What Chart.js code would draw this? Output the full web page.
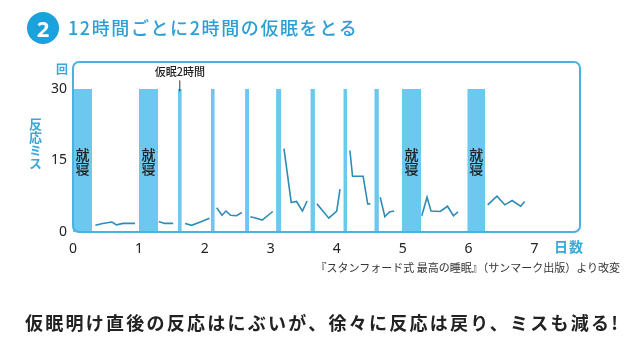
<!DOCTYPE html>
<html lang="ja">
<head>
<meta charset="utf-8">
<title>12時間ごとに2時間の仮眠をとる</title>
<script src="https://cdn.jsdelivr.net/npm/chart.js@4"></script>
<style>
  body { margin: 0; background: #fff; font-family: "Noto Sans CJK JP", "Noto Sans", sans-serif; }
  #wrap { position: relative; width: 640px; height: 352px; overflow: hidden; }
  #chart { position: absolute; left: 0; top: 0; }
  .txt { position: absolute; white-space: nowrap; line-height: 1; }
  #num { left: 27px; top: 12px; width: 32px; height: 32px; border-radius: 50%; background: #1ba1dc;
         color: #fff; font: 700 22px "Noto Sans", sans-serif; text-align: center; line-height: 32px; }
  #title { left: 68px; top: 18px; font-size: 18px; font-weight: 500; color: #2e9fd4; letter-spacing: 1.6px; }
  #unit { left: 56px; top: 63px; font-size: 12px; font-weight: 700; color: #3aa8da; }
  #ylab { left: 29px; top: 118px; font-size: 13px; font-weight: 700; color: #3aa8da; writing-mode: vertical-rl; }
  #xlab { left: 554px; top: 239px; font-size: 14px; font-weight: 700; color: #3aa8da; letter-spacing: 1px; }
  #src { right: 20px; top: 262px; font-size: 11px; color: #333; }
  #cap { left: 25px; top: 313px; font-size: 18px; font-weight: 700; color: #222; letter-spacing: 2.25px; }
</style>
</head>
<body>
<div id="wrap">
  <canvas id="chart" width="640" height="352"></canvas>
  <div class="txt" id="num">2</div>
  <div class="txt" id="title">12時間ごとに2時間の仮眠をとる</div>
  <div class="txt" id="unit">回</div>
  <div class="txt" id="ylab">反応ミス</div>
  <div class="txt" id="xlab">日数</div>
  <div class="txt" id="src">『スタンフォード式 最高の睡眠』（サンマーク出版）より改変</div>
  <div class="txt" id="cap">仮眠明け直後の反応はにぶいが、徐々に反応は戻り、ミスも減る!</div>
</div>
<script>
// days since start; bars reach 30 on the miss scale
const sleepStart = [0, 1.0, 4.99, 5.98];
const sleepEnd   = [0.29, 1.29, 5.28, 6.25];
const napStart   = [1.59, 2.09, 2.61, 3.08, 3.60, 4.10, 4.57];
const napEnd     = [1.65, 2.15, 2.67, 3.16, 3.67, 4.16, 4.64];
const barTop = 30;

// reaction misses, null separates awake periods
const missDays = [
  0.34, 0.45, 0.59, 0.66, 0.76, 0.94, null,
  1.30, 1.39, 1.52, null,
  1.70, 1.80, 1.95, 2.07, null,
  2.18, 2.26, 2.32, 2.39, 2.48, 2.56, null,
  2.69, 2.78, 2.87, 3.03, null,
  3.20, 3.31, 3.39, 3.48, 3.55, null,
  3.70, 3.88, 4.00, 4.05, null,
  4.20, 4.24, 4.40, 4.47, 4.51, null,
  4.66, 4.73, 4.80, 4.87, null,
  5.29, 5.37, 5.43, 5.57, 5.68, 5.77, 5.84, null,
  6.29, 6.43, 6.55, 6.66, 6.79, 6.85
];
const missValues = [
  1.4, 1.8, 2.1, 1.5, 1.8, 1.8, null,
  2.2, 1.8, 1.8, null,
  1.8, 1.4, 2.2, 2.9, null,
  5.1, 3.5, 4.4, 3.5, 3.4, 4.1, null,
  3.2, 2.9, 2.5, 4.3, null,
  17.5, 6.2, 6.4, 4.4, 6.5, null,
  5.9, 2.9, 4.4, 9.0, null,
  17.1, 11.7, 11.7, 5.9, 5.9, null,
  7.3, 3.2, 4.2, 4.4, null,
  3.4, 7.3, 4.4, 4.3, 5.4, 3.4, 4.2, null,
  5.7, 7.5, 5.7, 6.6, 5.4, 6.4
];
const xTicks = [0, 1, 2, 3, 4, 5, 6, 7];
const yTicks = [0, 15, 30];
const sleepLabel = '就寝';
const napLabel = '仮眠2時間';

const barColor = '#6cc8ef';
const lineColor = '#2f8bb7';

function barSet(a, b) {
  return {
    type: 'line',
    data: [{x: a, y: barTop}, {x: b, y: barTop}],
    fill: 'origin',
    backgroundColor: barColor,
    borderWidth: 0,
    pointRadius: 0
  };
}

var datasets = [];
sleepStart.forEach(function (s, i) { datasets.push(barSet(s, sleepEnd[i])); });
napStart.forEach(function (s, i) { datasets.push(barSet(s, napEnd[i])); });
datasets.push({
  type: 'line',
  data: missDays.map(function (d, i) { return d === null ? {x: NaN, y: null} : {x: d, y: missValues[i]}; }),
  borderColor: lineColor,
  borderWidth: 1.6,
  pointRadius: 0,
  fill: false,
  spanGaps: false,
  tension: 0
});

const decor = {
  id: 'decor',
  afterDatasetsDraw: function (chart) {
    var ctx = chart.ctx, a = chart.chartArea;
    var xs = chart.scales.x, ys = chart.scales.y;
    ctx.save();
    // frame
    ctx.strokeStyle = '#4ab2e0';
    ctx.lineWidth = 2;
    ctx.beginPath();
    ctx.roundRect(a.left, a.top, a.right - a.left, a.bottom - a.top, 6);
    ctx.stroke();
    // sleep labels, written top to bottom
    ctx.fillStyle = '#222';
    ctx.font = '500 14px "Noto Sans CJK JP"';
    ctx.textAlign = 'center';
    ctx.textBaseline = 'middle';
    sleepStart.forEach(function (s, i) {
      var cx = xs.getPixelForValue((s + sleepEnd[i]) / 2);
      ctx.fillText(sleepLabel[0], cx, ys.getPixelForValue(16.2));
      ctx.fillText(sleepLabel[1], cx, ys.getPixelForValue(13.3));
    });
    // nap annotation
    var nx = xs.getPixelForValue((napStart[0] + napEnd[0]) / 2);
    ctx.font = '500 11px "Noto Sans CJK JP"';
    ctx.fillText(napLabel, nx, ys.getPixelForValue(33.7));
    ctx.strokeStyle = '#333';
    ctx.lineWidth = 1;
    ctx.beginPath();
    ctx.moveTo(nx, ys.getPixelForValue(31.8));
    ctx.lineTo(nx, ys.getPixelForValue(29.5));
    ctx.stroke();
    ctx.restore();
  }
};

new Chart(document.getElementById('chart'), {
  type: 'line',
  data: {datasets: datasets},
  plugins: [decor],
  options: {
    responsive: false,
    animation: false,
    events: [],
    layout: {padding: {top: 62, right: 60, left: 0, bottom: 0}},
    plugins: {legend: {display: false}, tooltip: {enabled: false}},
    scales: {
      x: {
        type: 'linear', min: 0, max: 7.69,
        grid: {display: false, drawTicks: false},
        border: {display: false},
        ticks: {color: '#222', font: {size: 14, family: 'Noto Sans'}, padding: 9, maxRotation: 0},
        afterBuildTicks: function (s) { s.ticks = xTicks.map(function (v) { return {value: v}; }); },
        afterFit: function (s) { s.height = 120; }
      },
      y: {
        type: 'linear', min: 0, max: 35.66,
        grid: {display: false, drawTicks: false},
        border: {display: false},
        ticks: {color: '#222', font: {size: 14, family: 'Noto Sans'}, padding: 6},
        afterBuildTicks: function (s) { s.ticks = yTicks.map(function (v) { return {value: v}; }); },
        afterFit: function (s) { s.width = 73; }
      }
    }
  }
});
</script>
</body>
</html>
